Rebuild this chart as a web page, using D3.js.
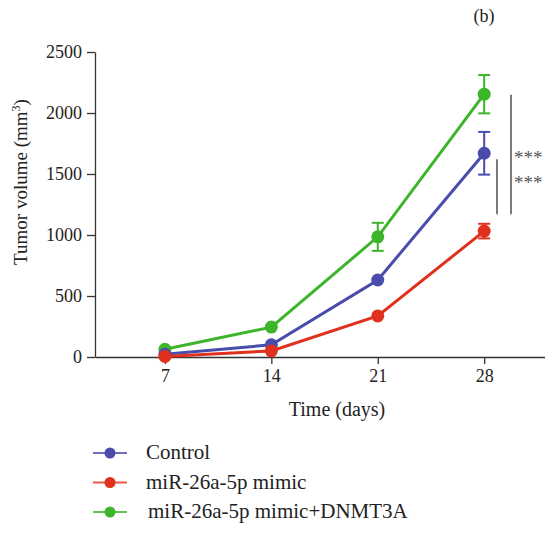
<!DOCTYPE html>
<html lang="en">
<head>
  <meta charset="UTF-8">
  <title>Tumor volume</title>
  <script src="https://d3js.org/d3.v7.min.js"></script>
  <style>
    body { margin: 0; background: #fff; }
    svg { font-family: "Liberation Serif", "DejaVu Serif", serif; }
    .axis path, .axis line { stroke: #333; stroke-width: 1.3; }
    .axis text { font-size: 18px; fill: #222; font-family: "Liberation Serif", serif; }
  </style>
</head>
<body>
  <svg id="chart" width="545" height="534"></svg>
  <script>
    // data
    const days = [7, 14, 21, 28];
    const seriesNames = ["Control", "miR-26a-5p mimic", "miR-26a-5p mimic+DNMT3A"];
    const colors = ["#4a4cab", "#e0311f", "#3cb52a"];
    const controlMean = [22, 100, 631, 1670];
    const controlErr = [0, 0, 0, 175];
    const mimicMean = [5, 50, 337, 1032];
    const mimicErr = [0, 0, 0, 60];
    const dnmtMean = [63, 245, 985, 2154];
    const dnmtErr = [0, 0, 115, 157];
    const yTicks = [0, 500, 1000, 1500, 2000, 2500];

    const series = [
      { name: seriesNames[0], mean: controlMean, err: controlErr, color: colors[0] },
      { name: seriesNames[1], mean: mimicMean, err: mimicErr, color: colors[1] },
      { name: seriesNames[2], mean: dnmtMean, err: dnmtErr, color: colors[2] }
    ];

    const svg = d3.select("#chart");

    const x = d3.scaleLinear().domain([2.4, 32]).range([95, 545]);
    const y = d3.scaleLinear().domain([0, 2500]).range([357, 52]);

    // axes
    svg.append("g")
      .attr("class", "axis")
      .attr("transform", "translate(0,357)")
      .call(d3.axisBottom(x).tickValues(days).tickFormat(d3.format("d"))
        .tickSize(7).tickPadding(5).tickSizeOuter(0));

    svg.append("g")
      .attr("class", "axis")
      .attr("transform", "translate(95,0)")
      .call(d3.axisLeft(y).tickValues(yTicks).tickFormat(d3.format("d"))
        .tickSize(8).tickPadding(5).tickSizeOuter(0));

    // axis titles
    const yt = svg.append("text")
      .attr("transform", "translate(27,182) rotate(-90)")
      .attr("text-anchor", "middle")
      .style("font-size", "19px")
      .attr("fill", "#222");
    yt.append("tspan").text("Tumor volume (mm");
    yt.append("tspan").attr("baseline-shift", "super").style("font-size", "12px").text("3");
    yt.append("tspan").text(")");

    svg.append("text")
      .attr("x", 337).attr("y", 416)
      .attr("text-anchor", "middle")
      .style("font-size", "20px")
      .attr("fill", "#222")
      .text("Time (days)");

    svg.append("text")
      .attr("x", 484).attr("y", 22)
      .attr("text-anchor", "middle")
      .style("font-size", "18px")
      .attr("fill", "#222")
      .text("(b)");

    const line = d3.line().x((d, i) => x(days[i])).y(d => y(d));

    // draw back to front
    [2, 0, 1].forEach(k => {
      const s = series[k];
      const g = svg.append("g");
      g.append("path")
        .datum(s.mean)
        .attr("d", line)
        .attr("fill", "none")
        .attr("stroke", s.color)
        .attr("stroke-width", 3);

      // error bars
      s.mean.forEach((m, i) => {
        if (!s.err[i]) return;
        const cx = x(days[i]);
        g.append("line").attr("x1", cx).attr("x2", cx)
          .attr("y1", y(m + s.err[i])).attr("y2", y(m - s.err[i]))
          .attr("stroke", s.color).attr("stroke-width", 2);
        [m + s.err[i], m - s.err[i]].forEach(v => {
          g.append("line").attr("x1", cx - 6).attr("x2", cx + 6)
            .attr("y1", y(v)).attr("y2", y(v))
            .attr("stroke", s.color).attr("stroke-width", 2);
        });
      });

      g.selectAll("circle")
        .data(s.mean)
        .enter().append("circle")
        .attr("cx", (d, i) => x(days[i]))
        .attr("cy", d => y(d))
        .attr("r", 6.5)
        .attr("fill", s.color);
    });

    // significance brackets
    svg.append("line").attr("x1", 511).attr("x2", 511)
      .attr("y1", y(2150)).attr("y2", y(1170))
      .attr("stroke", "#333").attr("stroke-width", 1.3);
    svg.append("line").attr("x1", 497).attr("x2", 497)
      .attr("y1", y(1620)).attr("y2", y(1170))
      .attr("stroke", "#333").attr("stroke-width", 1.3);
    svg.append("text").attr("x", 514).attr("y", 164)
      .style("font-size", "19px").attr("fill", "#555").text("***");
    svg.append("text").attr("x", 514).attr("y", 189)
      .style("font-size", "19px").attr("fill", "#555").text("***");

    // legend
    const legend = svg.append("g");
    series.forEach((s, i) => {
      const ly = 453 + i * 29.5;
      legend.append("line")
        .attr("x1", 93).attr("x2", 127).attr("y1", ly).attr("y2", ly)
        .attr("stroke", s.color).attr("stroke-width", 1.8).attr("opacity", 0.8);
      legend.append("circle").attr("cx", 110).attr("cy", ly).attr("r", 5.5).attr("fill", s.color);
      legend.append("text")
        .attr("x", i === 2 ? 148 : 146).attr("y", ly + 6)
        .style("font-size", "21px").attr("fill", "#222")
        .text(s.name);
    });
  </script>
</body>
</html>
